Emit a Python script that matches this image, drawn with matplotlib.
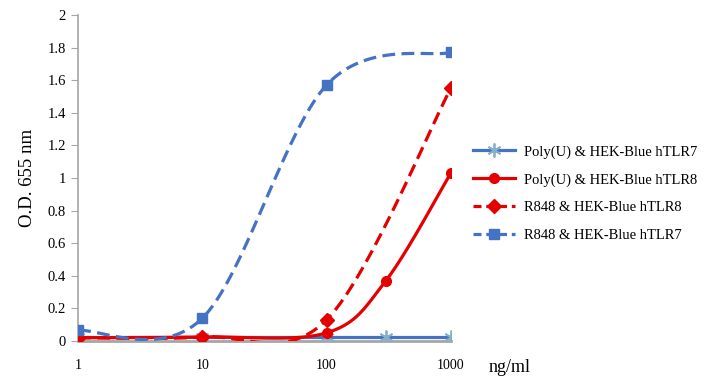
import numpy as np
import matplotlib
matplotlib.use("Agg")
import matplotlib.pyplot as plt
from matplotlib.lines import Line2D

plt.rcParams['font.family'] = ['Liberation Serif', 'DejaVu Serif']

# -----------------------------
# Data
# -----------------------------
conc_5 = [1, 10, 100, 300, 1000]
conc_4 = [1, 10, 100, 1000]

polyu_tlr7 = [0.025, 0.025, 0.025, 0.025, 0.025]
polyu_tlr8 = [0.02, 0.025, 0.05, 0.37, 1.03]
r848_tlr8 = [0.02, 0.025, 0.13, 1.55]
r848_tlr7 = [0.065, 0.14, 1.57, 1.77]

labels = ["Poly(U) & HEK-Blue hTLR7",
          "Poly(U) & HEK-Blue hTLR8",
          "R848 & HEK-Blue hTLR8",
          "R848 & HEK-Blue hTLR7"]

yticks = [0, 0.2, 0.4, 0.6, 0.8, 1, 1.2, 1.4, 1.6, 1.8, 2]
ytick_labels = ["0", "0.2", "0.4", "0.6", "0.8", "1", "1.2", "1.4", "1.6", "1.8", "2"]
xticks = [1, 10, 100, 1000]

BLUE = "#4472C4"
RED = "#E50000"
STAR = "#86AFC8"


# -----------------------------
# Excel-like smoothed line (Catmull-Rom bezier in screen-ish units)
# -----------------------------
def smooth(x, y, sx=124.0, sy=163.0, n=40):
    X = np.log10(np.asarray(x, float)) * sx
    Y = np.asarray(y, float) * sy
    P = np.column_stack([X, Y])
    out = [P[0]]
    for i in range(len(P) - 1):
        p0 = P[i - 1] if i > 0 else P[i]
        p1, p2 = P[i], P[i + 1]
        p3 = P[i + 2] if i + 2 < len(P) else P[i + 1]
        c1 = p1 + (p2 - p0) / 6.0
        c2 = p2 - (p3 - p1) / 6.0
        t = np.linspace(0, 1, n)[1:, None]
        seg = ((1 - t) ** 3) * p1 + 3 * ((1 - t) ** 2) * t * c1 + 3 * (1 - t) * t ** 2 * c2 + t ** 3 * p2
        out.extend(seg)
    out = np.array(out)
    return 10 ** (out[:, 0] / sx), out[:, 1] / sy


fig = plt.figure(figsize=(7.1, 3.77), dpi=100)
ax = fig.add_axes([0.110, 0.0955, 0.525, 0.865])

lw = 2.3
dash = (4, 2)

# Poly(U) hTLR7
sx_, sy_ = smooth(conc_5, polyu_tlr7)
ax.plot(sx_, sy_, color=BLUE, lw=lw, zorder=3)
ax.plot(conc_5, polyu_tlr7, ls="none", marker=(6, 2, 0), ms=10, mew=1.3, color=STAR, zorder=4)

# Poly(U) hTLR8
sx_, sy_ = smooth(conc_5, polyu_tlr8)
ax.plot(sx_, sy_, color=RED, lw=lw, zorder=5)
ax.plot(conc_5, polyu_tlr8, ls="none", marker="o", ms=7, color=RED, zorder=6)

# R848 hTLR8
sx_, sy_ = smooth(conc_4, r848_tlr8)
ax.plot(sx_, sy_, color=RED, lw=lw, dashes=dash, zorder=5)
ax.plot(conc_4, r848_tlr8, ls="none", marker="D", ms=7, color=RED, zorder=6)

# R848 hTLR7
sx_, sy_ = smooth(conc_4, r848_tlr7)
ax.plot(sx_, sy_, color=BLUE, lw=lw, dashes=dash, zorder=5)
ax.plot(conc_4, r848_tlr7, ls="none", marker="s", ms=7, color=BLUE, zorder=6)

ax.set_xscale("log")
ax.set_xlim(1, 1000)
ax.set_ylim(0, 2)
ax.set_xticks(xticks)
ax.set_xticklabels([str(v) for v in xticks], fontsize=10)
ax.minorticks_off()
ax.set_yticks(yticks)
ax.set_yticklabels(ytick_labels, fontsize=10.5)
ax.tick_params(axis="x", length=0, pad=13)
ax.tick_params(axis="y", length=5, color="#A6A6A6", pad=4)

for s in ["top", "right"]:
    ax.spines[s].set_visible(False)
ax.spines["left"].set_color("#A6A6A6")
ax.spines["bottom"].set_color("#A6A6A6")
ax.spines["left"].set_linewidth(1.2)
ax.spines["bottom"].set_linewidth(2.0)
for sp in ax.spines.values():
    sp.set_clip_on(False)

ax.set_ylabel("O.D. 655 nm", fontsize=13.5, labelpad=8)
fig.text(0.688, 0.024, "ng/ml", fontsize=13, ha="left", va="center")

handles = [
    Line2D([], [], color=BLUE, lw=lw, marker=(6, 2, 0), ms=10, mec=STAR, mfc=STAR, mew=1.3),
    Line2D([], [], color=RED, lw=lw, marker="o", ms=7),
    Line2D([], [], color=RED, lw=lw, dashes=(2.5, 1.5), marker="D", ms=7),
    Line2D([], [], color=BLUE, lw=lw, dashes=(2.5, 1.5), marker="s", ms=7),
]
fig.legend(handles, labels, loc="upper left", bbox_to_anchor=(0.648, 0.65),
           frameon=False, fontsize=10.5, handlelength=2.9, labelspacing=1.0,
           handletextpad=0.6)

fig.savefig("out.png", dpi=100)
